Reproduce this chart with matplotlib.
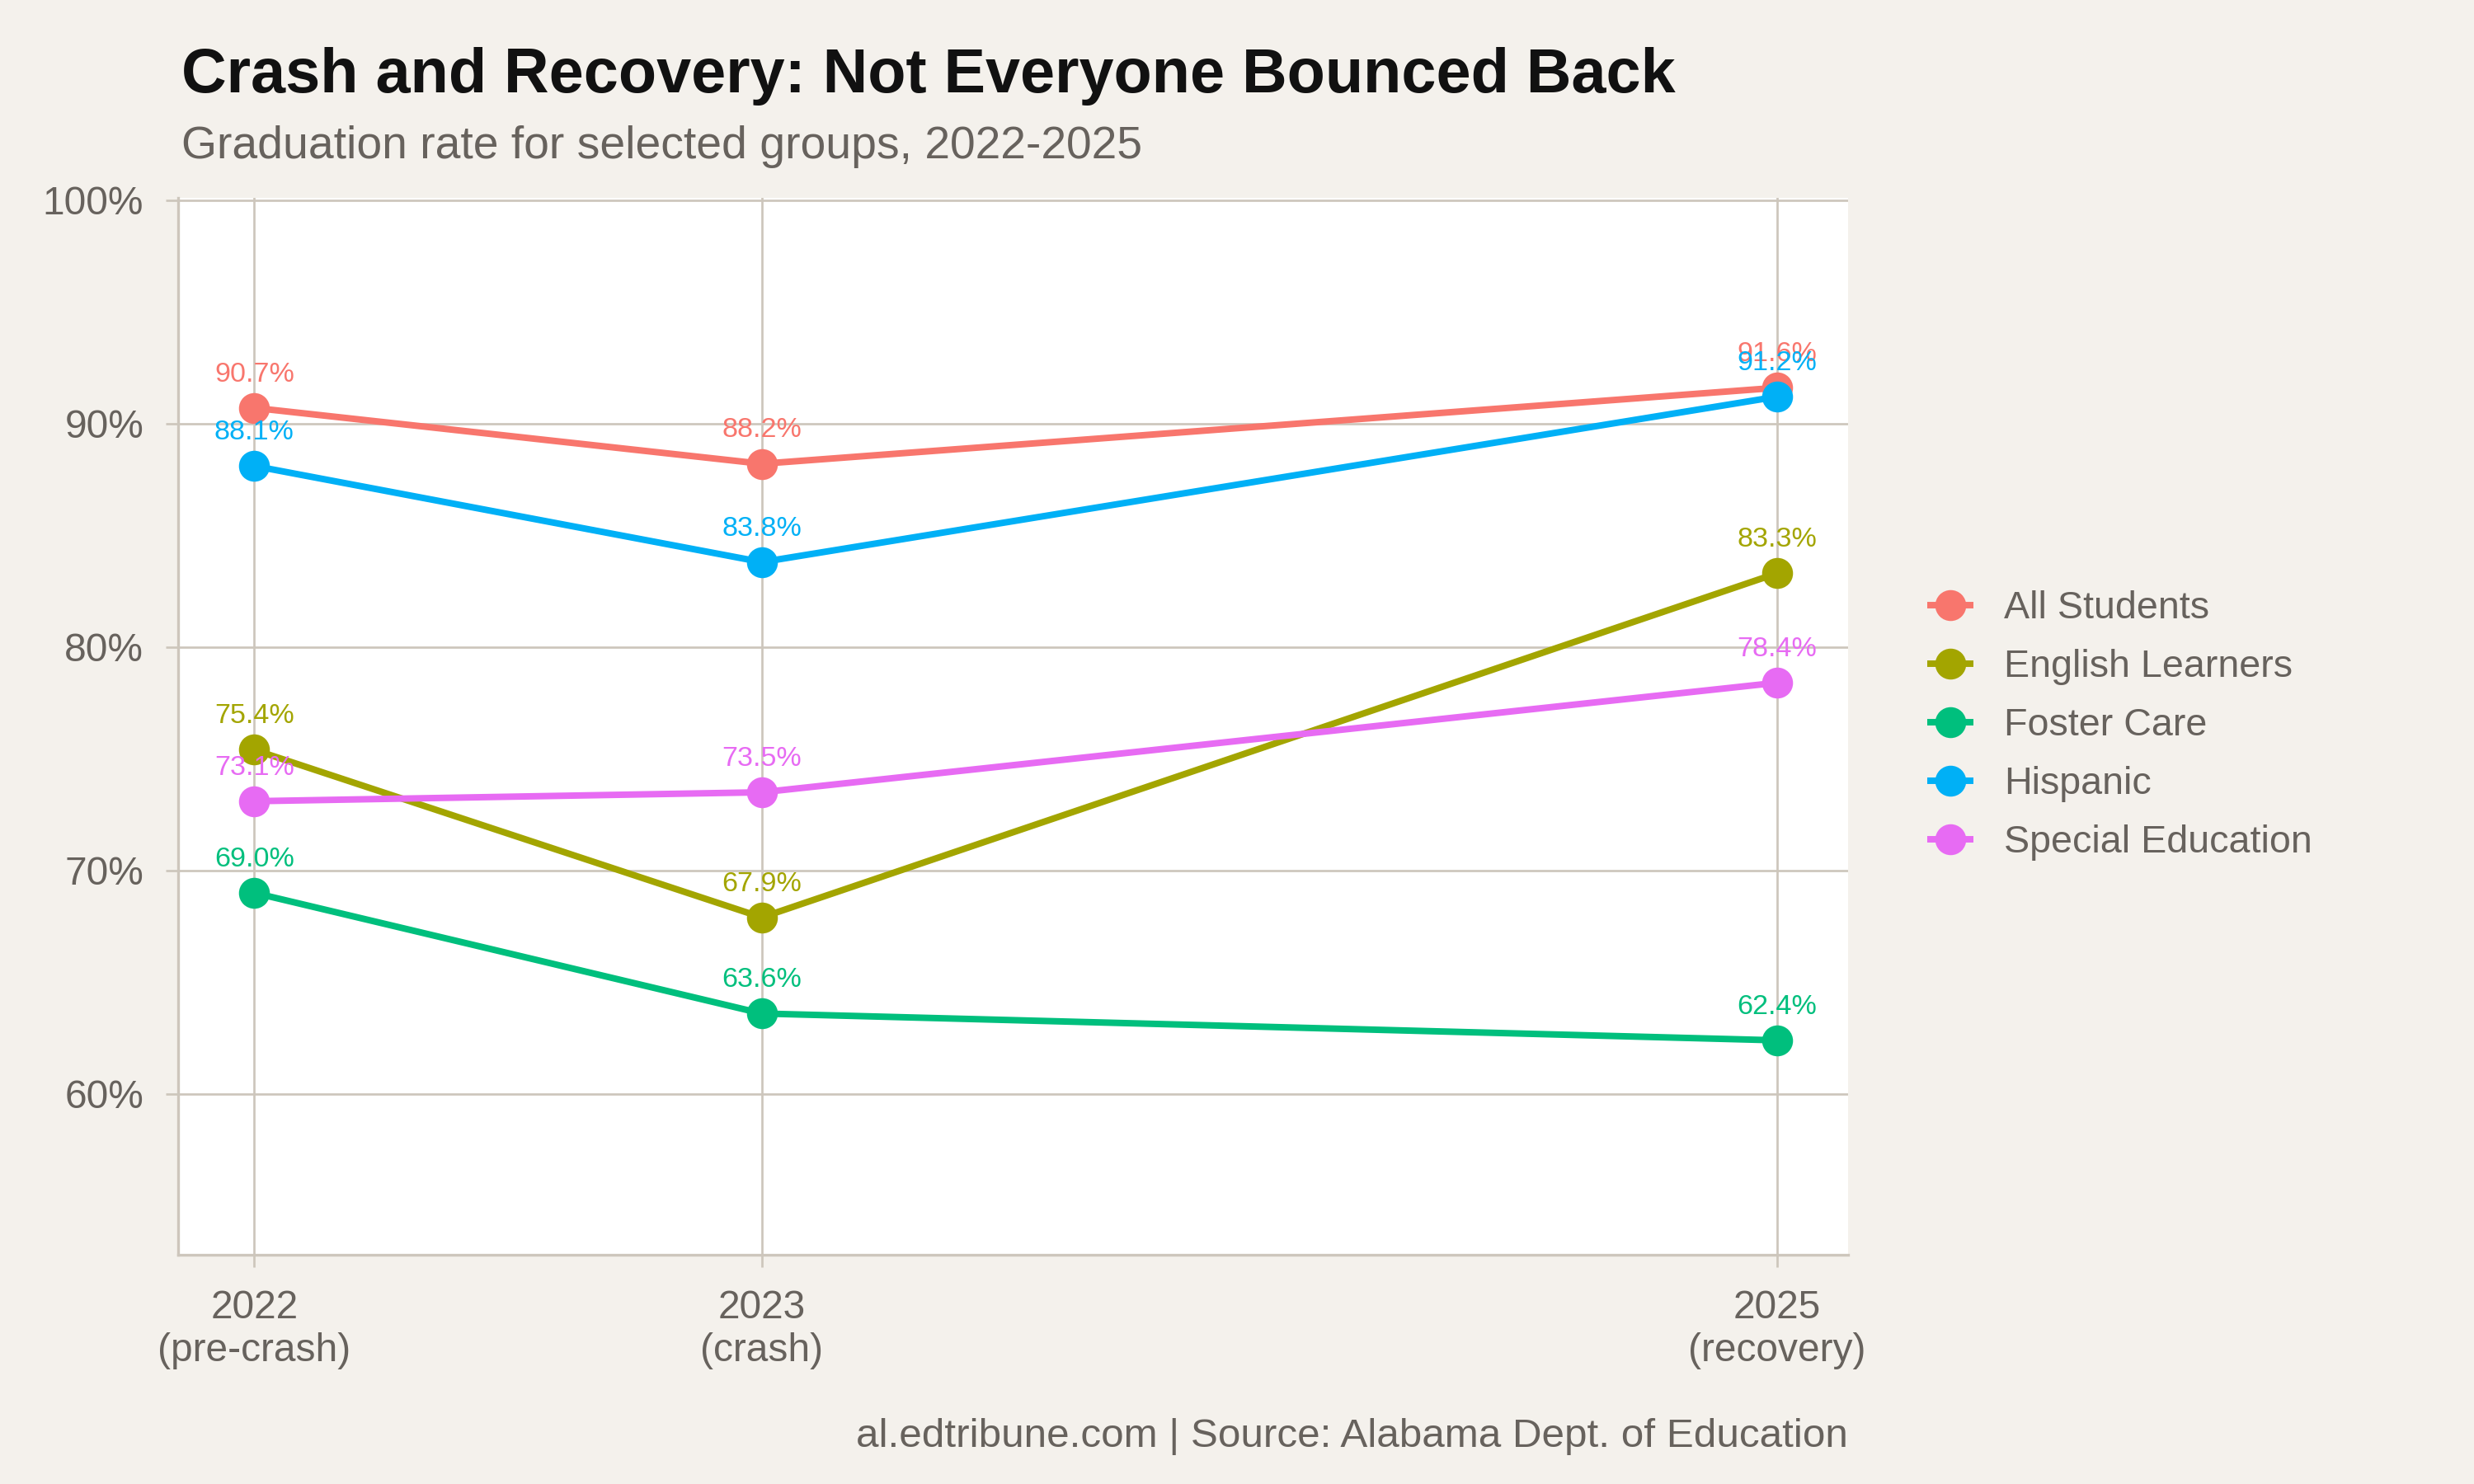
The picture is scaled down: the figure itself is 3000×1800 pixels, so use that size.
import numpy as np
import matplotlib
matplotlib.use('Agg')
import matplotlib.pyplot as plt

plt.rcParams['font.family'] = ['Liberation Sans', 'DejaVu Sans']

# data
years = [2022, 2023, 2025]
year_labels = ['2022\n(pre-crash)', '2023\n(crash)', '2025\n(recovery)']
groups = ['All Students', 'English Learners', 'Foster Care', 'Hispanic', 'Special Education']
all_students = [90.7, 88.2, 91.6]
english_learners = [75.4, 67.9, 83.3]
foster_care = [69.0, 63.6, 62.4]
hispanic = [88.1, 83.8, 91.2]
special_ed = [73.1, 73.5, 78.4]
series = [all_students, english_learners, foster_care, hispanic, special_ed]
colors = ['#F8766D', '#A3A500', '#00BF7D', '#00B0F6', '#E76BF3']
yticks = [60, 70, 80, 90, 100]

BG = '#F4F1EC'
GRID = '#CDC6BC'
TXT = '#67625D'

fig = plt.figure(figsize=(10, 6), dpi=300, facecolor=BG)
ax = fig.add_axes([0.072, 0.1544, 0.675, 0.7123])
ax.set_facecolor('white')

for name, vals, c in zip(groups, series, colors):
    ax.plot(years, vals, '-o', color=c, lw=1.9, ms=8, label=name,
            solid_capstyle='butt', zorder=3)
    for x, v in zip(years, vals):
        ax.text(x, v + 1.5, f'{v:.1f}%', color=c, fontsize=8.2,
                ha='center', va='center', zorder=4)

ax.set_xlim(2021.85, 2025.14)
ax.set_ylim(52.8, 100.1)
ax.set_xticks(years)
ax.set_xticklabels(year_labels, linespacing=1.2)
ax.set_yticks(yticks)
ax.set_yticklabels([f'{t}%' for t in yticks])
ax.grid(True, color=GRID, lw=0.65, zorder=0)
ax.set_axisbelow(True)

for s in ['top', 'right']:
    ax.spines[s].set_visible(False)
for s in ['left', 'bottom']:
    ax.spines[s].set_color(GRID)
    ax.spines[s].set_linewidth(0.8)
ax.tick_params(axis='both', colors=GRID, labelcolor=TXT, labelsize=11.5,
               length=3.5, width=0.65)
ax.tick_params(axis='x', pad=6.5)
ax.tick_params(axis='y', pad=6.5)

leg = fig.legend(loc='center left', bbox_to_anchor=(0.779, 0.511), frameon=False,
                 fontsize=11.2, handlelength=1.2, handletextpad=0.8,
                 labelspacing=0.58, borderpad=0, borderaxespad=0)
for t in leg.get_texts():
    t.set_color(TXT)

fig.text(0.0733, 1 - 112 / 1800, 'Crash and Recovery: Not Everyone Bounced Back',
         fontsize=18.15, fontweight='bold', color='#111111', va='baseline', ha='left')
fig.text(0.0733, 1 - 192 / 1800, 'Graduation rate for selected groups, 2022-2025',
         fontsize=13.25, color=TXT, va='baseline', ha='left')
fig.text(0.747, 0.032, 'al.edtribune.com | Source: Alabama Dept. of Education',
         fontsize=11.85, color=TXT, va='center', ha='right')

fig.savefig('out.png', dpi=300, facecolor=BG)
